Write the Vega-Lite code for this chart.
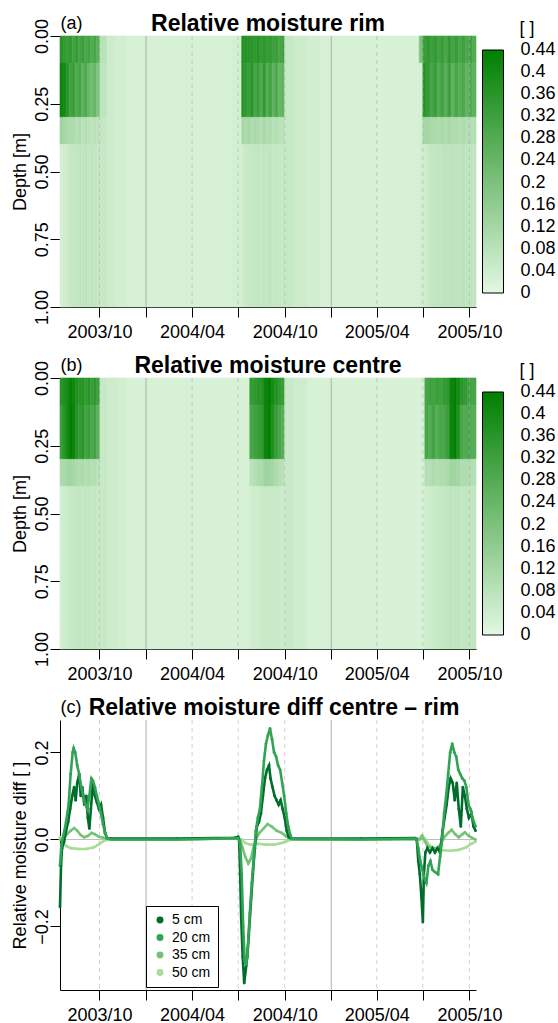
{
  "$schema": "https://vega.github.io/schema/vega-lite/v6.json",
  "padding": {"left": 11, "top": 13, "right": 0, "bottom": 0},
  "spacing": 14,
  "config": {
    "font": "Liberation Sans",
    "view": {"stroke": null},
    "axis": {"domainColor": "#000", "tickColor": "#000", "labelColor": "#000", "titleColor": "#000", "labelFontSize": 18, "titleFontSize": 18, "titleFontWeight": "normal", "tickSize": 10, "grid": false, "labelFlush": false, "labelOverlap": false, "domainWidth": 1, "tickWidth": 1},
    "title": {"fontSize": 23, "fontWeight": "bold", "color": "#000"},
    "legend": {"labelFontSize": 18, "titleFontSize": 18, "titleFontWeight": "normal", "labelColor": "#000", "titleColor": "#000"}
  },
  "datasets": {
    "bands": [{"b":0,"d0":0,"d1":1},{"b":1,"d0":0,"d1":0.1},{"b":2,"d0":0.1,"d1":0.3},{"b":3,"d0":0.3,"d1":0.4},{"b":4,"d0":0.4,"d1":1}],
    "grid": [{"d":"2003/10/01","k":"q"},{"d":"2004/01/01","k":"y"},{"d":"2004/04/01","k":"q"},{"d":"2004/07/01","k":"q"},{"d":"2004/10/01","k":"q"},{"d":"2005/01/01","k":"y"},{"d":"2005/04/01","k":"q"},{"d":"2005/07/01","k":"q"},{"d":"2005/10/01","k":"q"}],
    "rim": [
      {"t0":"2003/07/15","t1":"2003/07/21","b":1,"v":0.36},{"t0":"2003/07/15","t1":"2003/07/21","b":2,"v":0.42},{"t0":"2003/07/15","t1":"2003/07/21","b":3,"v":0.13},{"t0":"2003/07/15","t1":"2003/07/21","b":4,"v":0.03},
      {"t0":"2003/07/21","t1":"2003/07/27","b":1,"v":0.34},{"t0":"2003/07/21","t1":"2003/07/27","b":2,"v":0.40},{"t0":"2003/07/21","t1":"2003/07/27","b":3,"v":0.12},{"t0":"2003/07/21","t1":"2003/07/27","b":4,"v":0.035},
      {"t0":"2003/07/27","t1":"2003/08/02","b":1,"v":0.33},{"t0":"2003/07/27","t1":"2003/08/02","b":2,"v":0.36},{"t0":"2003/07/27","t1":"2003/08/02","b":3,"v":0.11},{"t0":"2003/07/27","t1":"2003/08/02","b":4,"v":0.045},
      {"t0":"2003/08/02","t1":"2003/08/08","b":1,"v":0.35},{"t0":"2003/08/02","t1":"2003/08/08","b":2,"v":0.31},{"t0":"2003/08/02","t1":"2003/08/08","b":3,"v":0.10},{"t0":"2003/08/02","t1":"2003/08/08","b":4,"v":0.055},
      {"t0":"2003/08/08","t1":"2003/08/14","b":1,"v":0.31},{"t0":"2003/08/08","t1":"2003/08/14","b":2,"v":0.33},{"t0":"2003/08/08","t1":"2003/08/14","b":3,"v":0.11},{"t0":"2003/08/08","t1":"2003/08/14","b":4,"v":0.06},
      {"t0":"2003/08/14","t1":"2003/08/20","b":1,"v":0.34},{"t0":"2003/08/14","t1":"2003/08/20","b":2,"v":0.28},{"t0":"2003/08/14","t1":"2003/08/20","b":3,"v":0.09},{"t0":"2003/08/14","t1":"2003/08/20","b":4,"v":0.065},
      {"t0":"2003/08/20","t1":"2003/08/26","b":1,"v":0.30},{"t0":"2003/08/20","t1":"2003/08/26","b":2,"v":0.31},{"t0":"2003/08/20","t1":"2003/08/26","b":3,"v":0.10},{"t0":"2003/08/20","t1":"2003/08/26","b":4,"v":0.07},
      {"t0":"2003/08/26","t1":"2003/09/01","b":1,"v":0.33},{"t0":"2003/08/26","t1":"2003/09/01","b":2,"v":0.26},{"t0":"2003/08/26","t1":"2003/09/01","b":3,"v":0.08},{"t0":"2003/08/26","t1":"2003/09/01","b":4,"v":0.065},
      {"t0":"2003/09/01","t1":"2003/09/07","b":1,"v":0.29},{"t0":"2003/09/01","t1":"2003/09/07","b":2,"v":0.29},{"t0":"2003/09/01","t1":"2003/09/07","b":3,"v":0.09},{"t0":"2003/09/01","t1":"2003/09/07","b":4,"v":0.07},
      {"t0":"2003/09/07","t1":"2003/09/13","b":1,"v":0.31},{"t0":"2003/09/07","t1":"2003/09/13","b":2,"v":0.24},{"t0":"2003/09/07","t1":"2003/09/13","b":3,"v":0.08},{"t0":"2003/09/07","t1":"2003/09/13","b":4,"v":0.065},
      {"t0":"2003/09/13","t1":"2003/09/19","b":1,"v":0.28},{"t0":"2003/09/13","t1":"2003/09/19","b":2,"v":0.22},{"t0":"2003/09/13","t1":"2003/09/19","b":3,"v":0.07},{"t0":"2003/09/13","t1":"2003/09/19","b":4,"v":0.07},
      {"t0":"2003/09/19","t1":"2003/09/25","b":1,"v":0.30},{"t0":"2003/09/19","t1":"2003/09/25","b":2,"v":0.24},{"t0":"2003/09/19","t1":"2003/09/25","b":3,"v":0.08},{"t0":"2003/09/19","t1":"2003/09/25","b":4,"v":0.065},
      {"t0":"2003/09/25","t1":"2003/10/02","b":1,"v":0.26},{"t0":"2003/09/25","t1":"2003/10/02","b":2,"v":0.19},{"t0":"2003/09/25","t1":"2003/10/02","b":3,"v":0.07},{"t0":"2003/09/25","t1":"2003/10/02","b":4,"v":0.06},
      {"t0":"2003/10/02","t1":"2003/10/16","b":1,"v":0.08},{"t0":"2003/10/02","t1":"2003/10/16","b":2,"v":0.07},{"t0":"2003/10/02","t1":"2003/10/16","b":3,"v":0.06},{"t0":"2003/10/02","t1":"2003/10/16","b":4,"v":0.055},
      {"t0":"2003/10/16","t1":"2003/11/01","b":0,"v":0.045},
      {"t0":"2003/11/01","t1":"2003/11/25","b":0,"v":0.035},
      {"t0":"2003/11/25","t1":"2004/06/20","b":0,"v":0.025},
      {"t0":"2004/06/20","t1":"2004/07/08","b":0,"v":0.03},
      {"t0":"2004/07/08","t1":"2004/07/14","b":1,"v":0.37},{"t0":"2004/07/08","t1":"2004/07/14","b":2,"v":0.36},{"t0":"2004/07/08","t1":"2004/07/14","b":3,"v":0.12},{"t0":"2004/07/08","t1":"2004/07/14","b":4,"v":0.045},
      {"t0":"2004/07/14","t1":"2004/07/20","b":1,"v":0.37},{"t0":"2004/07/14","t1":"2004/07/20","b":2,"v":0.35},{"t0":"2004/07/14","t1":"2004/07/20","b":3,"v":0.11},{"t0":"2004/07/14","t1":"2004/07/20","b":4,"v":0.05},
      {"t0":"2004/07/20","t1":"2004/07/26","b":1,"v":0.36},{"t0":"2004/07/20","t1":"2004/07/26","b":2,"v":0.33},{"t0":"2004/07/20","t1":"2004/07/26","b":3,"v":0.12},{"t0":"2004/07/20","t1":"2004/07/26","b":4,"v":0.055},
      {"t0":"2004/07/26","t1":"2004/08/01","b":1,"v":0.36},{"t0":"2004/07/26","t1":"2004/08/01","b":2,"v":0.36},{"t0":"2004/07/26","t1":"2004/08/01","b":3,"v":0.10},{"t0":"2004/07/26","t1":"2004/08/01","b":4,"v":0.06},
      {"t0":"2004/08/01","t1":"2004/08/07","b":1,"v":0.35},{"t0":"2004/08/01","t1":"2004/08/07","b":2,"v":0.30},{"t0":"2004/08/01","t1":"2004/08/07","b":3,"v":0.11},{"t0":"2004/08/01","t1":"2004/08/07","b":4,"v":0.06},
      {"t0":"2004/08/07","t1":"2004/08/13","b":1,"v":0.36},{"t0":"2004/08/07","t1":"2004/08/13","b":2,"v":0.33},{"t0":"2004/08/07","t1":"2004/08/13","b":3,"v":0.10},{"t0":"2004/08/07","t1":"2004/08/13","b":4,"v":0.065},
      {"t0":"2004/08/13","t1":"2004/08/19","b":1,"v":0.34},{"t0":"2004/08/13","t1":"2004/08/19","b":2,"v":0.28},{"t0":"2004/08/13","t1":"2004/08/19","b":3,"v":0.09},{"t0":"2004/08/13","t1":"2004/08/19","b":4,"v":0.06},
      {"t0":"2004/08/19","t1":"2004/08/25","b":1,"v":0.35},{"t0":"2004/08/19","t1":"2004/08/25","b":2,"v":0.34},{"t0":"2004/08/19","t1":"2004/08/25","b":3,"v":0.11},{"t0":"2004/08/19","t1":"2004/08/25","b":4,"v":0.065},
      {"t0":"2004/08/25","t1":"2004/08/31","b":1,"v":0.33},{"t0":"2004/08/25","t1":"2004/08/31","b":2,"v":0.27},{"t0":"2004/08/25","t1":"2004/08/31","b":3,"v":0.09},{"t0":"2004/08/25","t1":"2004/08/31","b":4,"v":0.06},
      {"t0":"2004/08/31","t1":"2004/09/06","b":1,"v":0.34},{"t0":"2004/08/31","t1":"2004/09/06","b":2,"v":0.31},{"t0":"2004/08/31","t1":"2004/09/06","b":3,"v":0.10},{"t0":"2004/08/31","t1":"2004/09/06","b":4,"v":0.065},
      {"t0":"2004/09/06","t1":"2004/09/12","b":1,"v":0.32},{"t0":"2004/09/06","t1":"2004/09/12","b":2,"v":0.25},{"t0":"2004/09/06","t1":"2004/09/12","b":3,"v":0.08},{"t0":"2004/09/06","t1":"2004/09/12","b":4,"v":0.06},
      {"t0":"2004/09/12","t1":"2004/09/18","b":1,"v":0.33},{"t0":"2004/09/12","t1":"2004/09/18","b":2,"v":0.29},{"t0":"2004/09/12","t1":"2004/09/18","b":3,"v":0.09},{"t0":"2004/09/12","t1":"2004/09/18","b":4,"v":0.06},
      {"t0":"2004/09/18","t1":"2004/09/24","b":1,"v":0.30},{"t0":"2004/09/18","t1":"2004/09/24","b":2,"v":0.24},{"t0":"2004/09/18","t1":"2004/09/24","b":3,"v":0.08},{"t0":"2004/09/18","t1":"2004/09/24","b":4,"v":0.055},
      {"t0":"2004/09/24","t1":"2004/10/01","b":1,"v":0.31},{"t0":"2004/09/24","t1":"2004/10/01","b":2,"v":0.25},{"t0":"2004/09/24","t1":"2004/10/01","b":3,"v":0.08},{"t0":"2004/09/24","t1":"2004/10/01","b":4,"v":0.055},
      {"t0":"2004/10/01","t1":"2004/10/20","b":0,"v":0.055},
      {"t0":"2004/10/20","t1":"2004/11/15","b":0,"v":0.045},
      {"t0":"2004/11/15","t1":"2004/12/10","b":0,"v":0.035},
      {"t0":"2004/12/10","t1":"2005/06/24","b":0,"v":0.025},
      {"t0":"2005/06/24","t1":"2005/07/01","b":1,"v":0.2},{"t0":"2005/06/24","t1":"2005/07/01","b":2,"v":0.03},{"t0":"2005/06/24","t1":"2005/07/01","b":3,"v":0.03},{"t0":"2005/06/24","t1":"2005/07/01","b":4,"v":0.035},
      {"t0":"2005/07/01","t1":"2005/07/08","b":1,"v":0.33},{"t0":"2005/07/01","t1":"2005/07/08","b":2,"v":0.36},{"t0":"2005/07/01","t1":"2005/07/08","b":3,"v":0.12},{"t0":"2005/07/01","t1":"2005/07/08","b":4,"v":0.04},
      {"t0":"2005/07/08","t1":"2005/07/15","b":1,"v":0.35},{"t0":"2005/07/08","t1":"2005/07/15","b":2,"v":0.34},{"t0":"2005/07/08","t1":"2005/07/15","b":3,"v":0.12},{"t0":"2005/07/08","t1":"2005/07/15","b":4,"v":0.05},
      {"t0":"2005/07/15","t1":"2005/07/22","b":1,"v":0.32},{"t0":"2005/07/15","t1":"2005/07/22","b":2,"v":0.30},{"t0":"2005/07/15","t1":"2005/07/22","b":3,"v":0.11},{"t0":"2005/07/15","t1":"2005/07/22","b":4,"v":0.06},
      {"t0":"2005/07/22","t1":"2005/07/29","b":1,"v":0.34},{"t0":"2005/07/22","t1":"2005/07/29","b":2,"v":0.33},{"t0":"2005/07/22","t1":"2005/07/29","b":3,"v":0.11},{"t0":"2005/07/22","t1":"2005/07/29","b":4,"v":0.065},
      {"t0":"2005/07/29","t1":"2005/08/05","b":1,"v":0.31},{"t0":"2005/07/29","t1":"2005/08/05","b":2,"v":0.28},{"t0":"2005/07/29","t1":"2005/08/05","b":3,"v":0.10},{"t0":"2005/07/29","t1":"2005/08/05","b":4,"v":0.07},
      {"t0":"2005/08/05","t1":"2005/08/12","b":1,"v":0.33},{"t0":"2005/08/05","t1":"2005/08/12","b":2,"v":0.31},{"t0":"2005/08/05","t1":"2005/08/12","b":3,"v":0.11},{"t0":"2005/08/05","t1":"2005/08/12","b":4,"v":0.07},
      {"t0":"2005/08/12","t1":"2005/08/19","b":1,"v":0.30},{"t0":"2005/08/12","t1":"2005/08/19","b":2,"v":0.27},{"t0":"2005/08/12","t1":"2005/08/19","b":3,"v":0.10},{"t0":"2005/08/12","t1":"2005/08/19","b":4,"v":0.075},
      {"t0":"2005/08/19","t1":"2005/08/26","b":1,"v":0.34},{"t0":"2005/08/19","t1":"2005/08/26","b":2,"v":0.32},{"t0":"2005/08/19","t1":"2005/08/26","b":3,"v":0.11},{"t0":"2005/08/19","t1":"2005/08/26","b":4,"v":0.07},
      {"t0":"2005/08/26","t1":"2005/09/02","b":1,"v":0.31},{"t0":"2005/08/26","t1":"2005/09/02","b":2,"v":0.26},{"t0":"2005/08/26","t1":"2005/09/02","b":3,"v":0.10},{"t0":"2005/08/26","t1":"2005/09/02","b":4,"v":0.075},
      {"t0":"2005/09/02","t1":"2005/09/09","b":1,"v":0.33},{"t0":"2005/09/02","t1":"2005/09/09","b":2,"v":0.30},{"t0":"2005/09/02","t1":"2005/09/09","b":3,"v":0.10},{"t0":"2005/09/02","t1":"2005/09/09","b":4,"v":0.07},
      {"t0":"2005/09/09","t1":"2005/09/16","b":1,"v":0.30},{"t0":"2005/09/09","t1":"2005/09/16","b":2,"v":0.27},{"t0":"2005/09/09","t1":"2005/09/16","b":3,"v":0.09},{"t0":"2005/09/09","t1":"2005/09/16","b":4,"v":0.07},
      {"t0":"2005/09/16","t1":"2005/09/23","b":1,"v":0.32},{"t0":"2005/09/16","t1":"2005/09/23","b":2,"v":0.29},{"t0":"2005/09/16","t1":"2005/09/23","b":3,"v":0.10},{"t0":"2005/09/16","t1":"2005/09/23","b":4,"v":0.075},
      {"t0":"2005/09/23","t1":"2005/09/30","b":1,"v":0.29},{"t0":"2005/09/23","t1":"2005/09/30","b":2,"v":0.25},{"t0":"2005/09/23","t1":"2005/09/30","b":3,"v":0.09},{"t0":"2005/09/23","t1":"2005/09/30","b":4,"v":0.07},
      {"t0":"2005/09/30","t1":"2005/10/07","b":1,"v":0.31},{"t0":"2005/09/30","t1":"2005/10/07","b":2,"v":0.28},{"t0":"2005/09/30","t1":"2005/10/07","b":3,"v":0.09},{"t0":"2005/09/30","t1":"2005/10/07","b":4,"v":0.07},
      {"t0":"2005/10/07","t1":"2005/10/14","b":1,"v":0.28},{"t0":"2005/10/07","t1":"2005/10/14","b":2,"v":0.26},{"t0":"2005/10/07","t1":"2005/10/14","b":3,"v":0.09},{"t0":"2005/10/07","t1":"2005/10/14","b":4,"v":0.065}
    ],
    "centre": [
      {"t0":"2003/07/15","t1":"2003/07/21","b":1,"v":0.36},{"t0":"2003/07/15","t1":"2003/07/21","b":2,"v":0.33},{"t0":"2003/07/15","t1":"2003/07/21","b":3,"v":0.10},{"t0":"2003/07/15","t1":"2003/07/21","b":4,"v":0.035},
      {"t0":"2003/07/21","t1":"2003/07/27","b":1,"v":0.38},{"t0":"2003/07/21","t1":"2003/07/27","b":2,"v":0.36},{"t0":"2003/07/21","t1":"2003/07/27","b":3,"v":0.11},{"t0":"2003/07/21","t1":"2003/07/27","b":4,"v":0.04},
      {"t0":"2003/07/27","t1":"2003/08/02","b":1,"v":0.40},{"t0":"2003/07/27","t1":"2003/08/02","b":2,"v":0.40},{"t0":"2003/07/27","t1":"2003/08/02","b":3,"v":0.12},{"t0":"2003/07/27","t1":"2003/08/02","b":4,"v":0.05},
      {"t0":"2003/08/02","t1":"2003/08/08","b":1,"v":0.43},{"t0":"2003/08/02","t1":"2003/08/08","b":2,"v":0.44},{"t0":"2003/08/02","t1":"2003/08/08","b":3,"v":0.13},{"t0":"2003/08/02","t1":"2003/08/08","b":4,"v":0.055},
      {"t0":"2003/08/08","t1":"2003/08/14","b":1,"v":0.42},{"t0":"2003/08/08","t1":"2003/08/14","b":2,"v":0.43},{"t0":"2003/08/08","t1":"2003/08/14","b":3,"v":0.12},{"t0":"2003/08/08","t1":"2003/08/14","b":4,"v":0.06},
      {"t0":"2003/08/14","t1":"2003/08/20","b":1,"v":0.38},{"t0":"2003/08/14","t1":"2003/08/20","b":2,"v":0.37},{"t0":"2003/08/14","t1":"2003/08/20","b":3,"v":0.11},{"t0":"2003/08/14","t1":"2003/08/20","b":4,"v":0.06},
      {"t0":"2003/08/20","t1":"2003/08/26","b":1,"v":0.36},{"t0":"2003/08/20","t1":"2003/08/26","b":2,"v":0.34},{"t0":"2003/08/20","t1":"2003/08/26","b":3,"v":0.10},{"t0":"2003/08/20","t1":"2003/08/26","b":4,"v":0.065},
      {"t0":"2003/08/26","t1":"2003/09/01","b":1,"v":0.37},{"t0":"2003/08/26","t1":"2003/09/01","b":2,"v":0.36},{"t0":"2003/08/26","t1":"2003/09/01","b":3,"v":0.11},{"t0":"2003/08/26","t1":"2003/09/01","b":4,"v":0.06},
      {"t0":"2003/09/01","t1":"2003/09/07","b":1,"v":0.34},{"t0":"2003/09/01","t1":"2003/09/07","b":2,"v":0.31},{"t0":"2003/09/01","t1":"2003/09/07","b":3,"v":0.09},{"t0":"2003/09/01","t1":"2003/09/07","b":4,"v":0.065},
      {"t0":"2003/09/07","t1":"2003/09/13","b":1,"v":0.36},{"t0":"2003/09/07","t1":"2003/09/13","b":2,"v":0.33},{"t0":"2003/09/07","t1":"2003/09/13","b":3,"v":0.10},{"t0":"2003/09/07","t1":"2003/09/13","b":4,"v":0.06},
      {"t0":"2003/09/13","t1":"2003/09/19","b":1,"v":0.33},{"t0":"2003/09/13","t1":"2003/09/19","b":2,"v":0.29},{"t0":"2003/09/13","t1":"2003/09/19","b":3,"v":0.09},{"t0":"2003/09/13","t1":"2003/09/19","b":4,"v":0.06},
      {"t0":"2003/09/19","t1":"2003/09/25","b":1,"v":0.35},{"t0":"2003/09/19","t1":"2003/09/25","b":2,"v":0.31},{"t0":"2003/09/19","t1":"2003/09/25","b":3,"v":0.09},{"t0":"2003/09/19","t1":"2003/09/25","b":4,"v":0.06},
      {"t0":"2003/09/25","t1":"2003/10/02","b":1,"v":0.32},{"t0":"2003/09/25","t1":"2003/10/02","b":2,"v":0.26},{"t0":"2003/09/25","t1":"2003/10/02","b":3,"v":0.08},{"t0":"2003/09/25","t1":"2003/10/02","b":4,"v":0.055},
      {"t0":"2003/10/02","t1":"2003/10/16","b":0,"v":0.055},
      {"t0":"2003/10/16","t1":"2003/11/05","b":0,"v":0.045},
      {"t0":"2003/11/05","t1":"2003/11/25","b":0,"v":0.035},
      {"t0":"2003/11/25","t1":"2004/07/24","b":0,"v":0.025},
      {"t0":"2004/07/24","t1":"2004/07/31","b":1,"v":0.34},{"t0":"2004/07/24","t1":"2004/07/31","b":2,"v":0.30},{"t0":"2004/07/24","t1":"2004/07/31","b":3,"v":0.08},{"t0":"2004/07/24","t1":"2004/07/31","b":4,"v":0.035},
      {"t0":"2004/07/31","t1":"2004/08/07","b":1,"v":0.35},{"t0":"2004/07/31","t1":"2004/08/07","b":2,"v":0.32},{"t0":"2004/07/31","t1":"2004/08/07","b":3,"v":0.09},{"t0":"2004/07/31","t1":"2004/08/07","b":4,"v":0.04},
      {"t0":"2004/08/07","t1":"2004/08/14","b":1,"v":0.36},{"t0":"2004/08/07","t1":"2004/08/14","b":2,"v":0.33},{"t0":"2004/08/07","t1":"2004/08/14","b":3,"v":0.10},{"t0":"2004/08/07","t1":"2004/08/14","b":4,"v":0.045},
      {"t0":"2004/08/14","t1":"2004/08/21","b":1,"v":0.37},{"t0":"2004/08/14","t1":"2004/08/21","b":2,"v":0.35},{"t0":"2004/08/14","t1":"2004/08/21","b":3,"v":0.11},{"t0":"2004/08/14","t1":"2004/08/21","b":4,"v":0.05},
      {"t0":"2004/08/21","t1":"2004/08/28","b":1,"v":0.42},{"t0":"2004/08/21","t1":"2004/08/28","b":2,"v":0.42},{"t0":"2004/08/21","t1":"2004/08/28","b":3,"v":0.13},{"t0":"2004/08/21","t1":"2004/08/28","b":4,"v":0.055},
      {"t0":"2004/08/28","t1":"2004/09/04","b":1,"v":0.44},{"t0":"2004/08/28","t1":"2004/09/04","b":2,"v":0.44},{"t0":"2004/08/28","t1":"2004/09/04","b":3,"v":0.13},{"t0":"2004/08/28","t1":"2004/09/04","b":4,"v":0.055},
      {"t0":"2004/09/04","t1":"2004/09/11","b":1,"v":0.40},{"t0":"2004/09/04","t1":"2004/09/11","b":2,"v":0.38},{"t0":"2004/09/04","t1":"2004/09/11","b":3,"v":0.12},{"t0":"2004/09/04","t1":"2004/09/11","b":4,"v":0.055},
      {"t0":"2004/09/11","t1":"2004/09/18","b":1,"v":0.37},{"t0":"2004/09/11","t1":"2004/09/18","b":2,"v":0.33},{"t0":"2004/09/11","t1":"2004/09/18","b":3,"v":0.10},{"t0":"2004/09/11","t1":"2004/09/18","b":4,"v":0.05},
      {"t0":"2004/09/18","t1":"2004/09/25","b":1,"v":0.35},{"t0":"2004/09/18","t1":"2004/09/25","b":2,"v":0.30},{"t0":"2004/09/18","t1":"2004/09/25","b":3,"v":0.09},{"t0":"2004/09/18","t1":"2004/09/25","b":4,"v":0.05},
      {"t0":"2004/09/25","t1":"2004/10/01","b":1,"v":0.33},{"t0":"2004/09/25","t1":"2004/10/01","b":2,"v":0.27},{"t0":"2004/09/25","t1":"2004/10/01","b":3,"v":0.08},{"t0":"2004/09/25","t1":"2004/10/01","b":4,"v":0.045},
      {"t0":"2004/10/01","t1":"2004/10/20","b":0,"v":0.05},
      {"t0":"2004/10/20","t1":"2004/11/15","b":0,"v":0.04},
      {"t0":"2004/11/15","t1":"2005/07/05","b":0,"v":0.025},
      {"t0":"2005/07/05","t1":"2005/07/12","b":1,"v":0.30},{"t0":"2005/07/05","t1":"2005/07/12","b":2,"v":0.30},{"t0":"2005/07/05","t1":"2005/07/12","b":3,"v":0.09},{"t0":"2005/07/05","t1":"2005/07/12","b":4,"v":0.04},
      {"t0":"2005/07/12","t1":"2005/07/19","b":1,"v":0.32},{"t0":"2005/07/12","t1":"2005/07/19","b":2,"v":0.28},{"t0":"2005/07/12","t1":"2005/07/19","b":3,"v":0.09},{"t0":"2005/07/12","t1":"2005/07/19","b":4,"v":0.045},
      {"t0":"2005/07/19","t1":"2005/07/26","b":1,"v":0.31},{"t0":"2005/07/19","t1":"2005/07/26","b":2,"v":0.31},{"t0":"2005/07/19","t1":"2005/07/26","b":3,"v":0.10},{"t0":"2005/07/19","t1":"2005/07/26","b":4,"v":0.05},
      {"t0":"2005/07/26","t1":"2005/08/02","b":1,"v":0.33},{"t0":"2005/07/26","t1":"2005/08/02","b":2,"v":0.27},{"t0":"2005/07/26","t1":"2005/08/02","b":3,"v":0.09},{"t0":"2005/07/26","t1":"2005/08/02","b":4,"v":0.055},
      {"t0":"2005/08/02","t1":"2005/08/09","b":1,"v":0.32},{"t0":"2005/08/02","t1":"2005/08/09","b":2,"v":0.30},{"t0":"2005/08/02","t1":"2005/08/09","b":3,"v":0.10},{"t0":"2005/08/02","t1":"2005/08/09","b":4,"v":0.06},
      {"t0":"2005/08/09","t1":"2005/08/16","b":1,"v":0.34},{"t0":"2005/08/09","t1":"2005/08/16","b":2,"v":0.30},{"t0":"2005/08/09","t1":"2005/08/16","b":3,"v":0.10},{"t0":"2005/08/09","t1":"2005/08/16","b":4,"v":0.06},
      {"t0":"2005/08/16","t1":"2005/08/23","b":1,"v":0.35},{"t0":"2005/08/16","t1":"2005/08/23","b":2,"v":0.33},{"t0":"2005/08/16","t1":"2005/08/23","b":3,"v":0.11},{"t0":"2005/08/16","t1":"2005/08/23","b":4,"v":0.065},
      {"t0":"2005/08/23","t1":"2005/08/30","b":1,"v":0.42},{"t0":"2005/08/23","t1":"2005/08/30","b":2,"v":0.42},{"t0":"2005/08/23","t1":"2005/08/30","b":3,"v":0.13},{"t0":"2005/08/23","t1":"2005/08/30","b":4,"v":0.07},
      {"t0":"2005/08/30","t1":"2005/09/06","b":1,"v":0.44},{"t0":"2005/08/30","t1":"2005/09/06","b":2,"v":0.44},{"t0":"2005/08/30","t1":"2005/09/06","b":3,"v":0.13},{"t0":"2005/08/30","t1":"2005/09/06","b":4,"v":0.07},
      {"t0":"2005/09/06","t1":"2005/09/13","b":1,"v":0.40},{"t0":"2005/09/06","t1":"2005/09/13","b":2,"v":0.38},{"t0":"2005/09/06","t1":"2005/09/13","b":3,"v":0.12},{"t0":"2005/09/06","t1":"2005/09/13","b":4,"v":0.07},
      {"t0":"2005/09/13","t1":"2005/09/20","b":1,"v":0.36},{"t0":"2005/09/13","t1":"2005/09/20","b":2,"v":0.30},{"t0":"2005/09/13","t1":"2005/09/20","b":3,"v":0.10},{"t0":"2005/09/13","t1":"2005/09/20","b":4,"v":0.065},
      {"t0":"2005/09/20","t1":"2005/09/27","b":1,"v":0.34},{"t0":"2005/09/20","t1":"2005/09/27","b":2,"v":0.28},{"t0":"2005/09/20","t1":"2005/09/27","b":3,"v":0.10},{"t0":"2005/09/20","t1":"2005/09/27","b":4,"v":0.065},
      {"t0":"2005/09/27","t1":"2005/10/04","b":1,"v":0.32},{"t0":"2005/09/27","t1":"2005/10/04","b":2,"v":0.30},{"t0":"2005/09/27","t1":"2005/10/04","b":3,"v":0.10},{"t0":"2005/09/27","t1":"2005/10/04","b":4,"v":0.065},
      {"t0":"2005/10/04","t1":"2005/10/14","b":1,"v":0.30},{"t0":"2005/10/04","t1":"2005/10/14","b":2,"v":0.27},{"t0":"2005/10/04","t1":"2005/10/14","b":3,"v":0.09},{"t0":"2005/10/04","t1":"2005/10/14","b":4,"v":0.065}
    ],
    "diff": [
      {"d":"2003/07/15","s":"50 cm","v":0.005},{"d":"2003/07/20","s":"50 cm","v":-0.005},{"d":"2003/07/27","s":"50 cm","v":-0.015},{"d":"2003/08/05","s":"50 cm","v":-0.02},{"d":"2003/08/20","s":"50 cm","v":-0.022},{"d":"2003/09/05","s":"50 cm","v":-0.022},{"d":"2003/09/20","s":"50 cm","v":-0.018},{"d":"2003/10/01","s":"50 cm","v":-0.01},{"d":"2003/10/10","s":"50 cm","v":-0.003},{"d":"2003/10/18","s":"50 cm","v":0.0},{"d":"2004/03/01","s":"50 cm","v":0.0},{"d":"2004/07/01","s":"50 cm","v":0.002},{"d":"2004/07/08","s":"50 cm","v":0.0},{"d":"2004/07/15","s":"50 cm","v":-0.008},{"d":"2004/07/25","s":"50 cm","v":-0.012},{"d":"2004/08/10","s":"50 cm","v":-0.01},{"d":"2004/08/25","s":"50 cm","v":-0.012},{"d":"2004/09/10","s":"50 cm","v":-0.012},{"d":"2004/09/25","s":"50 cm","v":-0.008},{"d":"2004/10/05","s":"50 cm","v":-0.004},{"d":"2004/10/14","s":"50 cm","v":0.0},{"d":"2005/03/01","s":"50 cm","v":0.0},{"d":"2005/06/25","s":"50 cm","v":0.002},{"d":"2005/07/01","s":"50 cm","v":0.008},{"d":"2005/07/06","s":"50 cm","v":0.0},{"d":"2005/07/15","s":"50 cm","v":-0.015},{"d":"2005/07/25","s":"50 cm","v":-0.022},{"d":"2005/08/10","s":"50 cm","v":-0.025},{"d":"2005/08/25","s":"50 cm","v":-0.026},{"d":"2005/09/10","s":"50 cm","v":-0.024},{"d":"2005/09/25","s":"50 cm","v":-0.018},{"d":"2005/10/05","s":"50 cm","v":-0.01},{"d":"2005/10/13","s":"50 cm","v":-0.005},
      {"d":"2003/07/15","s":"35 cm","v":0.0},{"d":"2003/07/20","s":"35 cm","v":0.0},{"d":"2003/07/27","s":"35 cm","v":0.01},{"d":"2003/08/05","s":"35 cm","v":0.02},{"d":"2003/08/12","s":"35 cm","v":0.026},{"d":"2003/08/18","s":"35 cm","v":0.02},{"d":"2003/08/25","s":"35 cm","v":0.01},{"d":"2003/09/01","s":"35 cm","v":0.005},{"d":"2003/09/08","s":"35 cm","v":0.008},{"d":"2003/09/15","s":"35 cm","v":0.015},{"d":"2003/09/22","s":"35 cm","v":0.012},{"d":"2003/09/30","s":"35 cm","v":0.006},{"d":"2003/10/08","s":"35 cm","v":0.004},{"d":"2003/10/15","s":"35 cm","v":0.001},{"d":"2003/10/25","s":"35 cm","v":0.0},{"d":"2004/03/01","s":"35 cm","v":0.0},{"d":"2004/07/01","s":"35 cm","v":0.003},{"d":"2004/07/06","s":"35 cm","v":-0.005},{"d":"2004/07/10","s":"35 cm","v":-0.02},{"d":"2004/07/15","s":"35 cm","v":-0.04},{"d":"2004/07/21","s":"35 cm","v":-0.055},{"d":"2004/07/26","s":"35 cm","v":-0.045},{"d":"2004/07/31","s":"35 cm","v":-0.02},{"d":"2004/08/05","s":"35 cm","v":0.0},{"d":"2004/08/12","s":"35 cm","v":0.015},{"d":"2004/08/20","s":"35 cm","v":0.025},{"d":"2004/08/28","s":"35 cm","v":0.035},{"d":"2004/09/05","s":"35 cm","v":0.03},{"d":"2004/09/15","s":"35 cm","v":0.02},{"d":"2004/09/25","s":"35 cm","v":0.015},{"d":"2004/10/03","s":"35 cm","v":0.008},{"d":"2004/10/10","s":"35 cm","v":0.002},{"d":"2004/10/15","s":"35 cm","v":0.0},{"d":"2005/03/01","s":"35 cm","v":0.0},{"d":"2005/06/25","s":"35 cm","v":0.0},{"d":"2005/06/29","s":"35 cm","v":0.008},{"d":"2005/07/03","s":"35 cm","v":0.0},{"d":"2005/07/10","s":"35 cm","v":-0.015},{"d":"2005/07/20","s":"35 cm","v":-0.02},{"d":"2005/07/30","s":"35 cm","v":-0.02},{"d":"2005/08/06","s":"35 cm","v":-0.01},{"d":"2005/08/12","s":"35 cm","v":0.005},{"d":"2005/08/20","s":"35 cm","v":0.015},{"d":"2005/08/27","s":"35 cm","v":0.022},{"d":"2005/09/03","s":"35 cm","v":0.012},{"d":"2005/09/10","s":"35 cm","v":0.005},{"d":"2005/09/17","s":"35 cm","v":0.012},{"d":"2005/09/22","s":"35 cm","v":0.016},{"d":"2005/09/30","s":"35 cm","v":0.008},{"d":"2005/10/07","s":"35 cm","v":0.003},{"d":"2005/10/13","s":"35 cm","v":0.0},
      {"d":"2003/07/15","s":"5 cm","v":-0.155},{"d":"2003/07/17","s":"5 cm","v":-0.06},{"d":"2003/07/19","s":"5 cm","v":-0.02},{"d":"2003/07/23","s":"5 cm","v":-0.005},{"d":"2003/07/27","s":"5 cm","v":0.02},{"d":"2003/07/31","s":"5 cm","v":0.04},{"d":"2003/08/04","s":"5 cm","v":0.07},{"d":"2003/08/08","s":"5 cm","v":0.1},{"d":"2003/08/12","s":"5 cm","v":0.12},{"d":"2003/08/15","s":"5 cm","v":0.09},{"d":"2003/08/18","s":"5 cm","v":0.13},{"d":"2003/08/22","s":"5 cm","v":0.15},{"d":"2003/08/25","s":"5 cm","v":0.1},{"d":"2003/08/28","s":"5 cm","v":0.12},{"d":"2003/09/01","s":"5 cm","v":0.08},{"d":"2003/09/05","s":"5 cm","v":0.1},{"d":"2003/09/08","s":"5 cm","v":0.05},{"d":"2003/09/11","s":"5 cm","v":0.025},{"d":"2003/09/14","s":"5 cm","v":0.07},{"d":"2003/09/18","s":"5 cm","v":0.13},{"d":"2003/09/22","s":"5 cm","v":0.1},{"d":"2003/09/26","s":"5 cm","v":0.085},{"d":"2003/09/30","s":"5 cm","v":0.07},{"d":"2003/10/04","s":"5 cm","v":0.08},{"d":"2003/10/08","s":"5 cm","v":0.05},{"d":"2003/10/12","s":"5 cm","v":0.015},{"d":"2003/10/16","s":"5 cm","v":0.003},{"d":"2003/10/25","s":"5 cm","v":0.002},{"d":"2004/03/01","s":"5 cm","v":0.002},{"d":"2004/06/25","s":"5 cm","v":0.004},{"d":"2004/07/01","s":"5 cm","v":0.006},{"d":"2004/07/03","s":"5 cm","v":0.0},{"d":"2004/07/05","s":"5 cm","v":-0.08},{"d":"2004/07/07","s":"5 cm","v":-0.18},{"d":"2004/07/10","s":"5 cm","v":-0.27},{"d":"2004/07/13","s":"5 cm","v":-0.33},{"d":"2004/07/16","s":"5 cm","v":-0.3},{"d":"2004/07/19","s":"5 cm","v":-0.27},{"d":"2004/07/22","s":"5 cm","v":-0.22},{"d":"2004/07/26","s":"5 cm","v":-0.15},{"d":"2004/07/30","s":"5 cm","v":-0.08},{"d":"2004/08/03","s":"5 cm","v":-0.02},{"d":"2004/08/07","s":"5 cm","v":0.03},{"d":"2004/08/11","s":"5 cm","v":0.04},{"d":"2004/08/15","s":"5 cm","v":0.06},{"d":"2004/08/19","s":"5 cm","v":0.1},{"d":"2004/08/23","s":"5 cm","v":0.14},{"d":"2004/08/27","s":"5 cm","v":0.16},{"d":"2004/08/31","s":"5 cm","v":0.17},{"d":"2004/09/03","s":"5 cm","v":0.14},{"d":"2004/09/07","s":"5 cm","v":0.12},{"d":"2004/09/11","s":"5 cm","v":0.1},{"d":"2004/09/15","s":"5 cm","v":0.09},{"d":"2004/09/19","s":"5 cm","v":0.08},{"d":"2004/09/23","s":"5 cm","v":0.09},{"d":"2004/09/27","s":"5 cm","v":0.07},{"d":"2004/10/01","s":"5 cm","v":0.05},{"d":"2004/10/05","s":"5 cm","v":0.02},{"d":"2004/10/09","s":"5 cm","v":0.005},{"d":"2004/10/15","s":"5 cm","v":0.002},{"d":"2005/03/01","s":"5 cm","v":0.002},{"d":"2005/06/15","s":"5 cm","v":0.003},{"d":"2005/06/19","s":"5 cm","v":0.0},{"d":"2005/06/22","s":"5 cm","v":-0.05},{"d":"2005/06/25","s":"5 cm","v":-0.08},{"d":"2005/06/28","s":"5 cm","v":-0.13},{"d":"2005/07/01","s":"5 cm","v":-0.19},{"d":"2005/07/03","s":"5 cm","v":-0.08},{"d":"2005/07/06","s":"5 cm","v":-0.03},{"d":"2005/07/10","s":"5 cm","v":-0.02},{"d":"2005/07/15","s":"5 cm","v":-0.03},{"d":"2005/07/20","s":"5 cm","v":-0.02},{"d":"2005/07/25","s":"5 cm","v":-0.03},{"d":"2005/07/30","s":"5 cm","v":-0.02},{"d":"2005/08/04","s":"5 cm","v":-0.03},{"d":"2005/08/09","s":"5 cm","v":0.02},{"d":"2005/08/13","s":"5 cm","v":0.05},{"d":"2005/08/17","s":"5 cm","v":0.08},{"d":"2005/08/21","s":"5 cm","v":0.12},{"d":"2005/08/25","s":"5 cm","v":0.14},{"d":"2005/08/29","s":"5 cm","v":0.13},{"d":"2005/09/02","s":"5 cm","v":0.09},{"d":"2005/09/06","s":"5 cm","v":0.13},{"d":"2005/09/10","s":"5 cm","v":0.07},{"d":"2005/09/14","s":"5 cm","v":0.03},{"d":"2005/09/18","s":"5 cm","v":0.12},{"d":"2005/09/22","s":"5 cm","v":0.1},{"d":"2005/09/26","s":"5 cm","v":0.07},{"d":"2005/09/30","s":"5 cm","v":0.05},{"d":"2005/10/05","s":"5 cm","v":0.06},{"d":"2005/10/09","s":"5 cm","v":0.03},{"d":"2005/10/13","s":"5 cm","v":0.02},
      {"d":"2003/07/15","s":"20 cm","v":-0.06},{"d":"2003/07/18","s":"20 cm","v":-0.01},{"d":"2003/07/22","s":"20 cm","v":0.01},{"d":"2003/07/27","s":"20 cm","v":0.04},{"d":"2003/08/01","s":"20 cm","v":0.08},{"d":"2003/08/05","s":"20 cm","v":0.15},{"d":"2003/08/09","s":"20 cm","v":0.2},{"d":"2003/08/11","s":"20 cm","v":0.21},{"d":"2003/08/14","s":"20 cm","v":0.2},{"d":"2003/08/18","s":"20 cm","v":0.17},{"d":"2003/08/22","s":"20 cm","v":0.15},{"d":"2003/08/26","s":"20 cm","v":0.12},{"d":"2003/08/30","s":"20 cm","v":0.1},{"d":"2003/09/03","s":"20 cm","v":0.08},{"d":"2003/09/07","s":"20 cm","v":0.07},{"d":"2003/09/11","s":"20 cm","v":0.1},{"d":"2003/09/15","s":"20 cm","v":0.14},{"d":"2003/09/18","s":"20 cm","v":0.135},{"d":"2003/09/22","s":"20 cm","v":0.12},{"d":"2003/09/26","s":"20 cm","v":0.1},{"d":"2003/09/30","s":"20 cm","v":0.08},{"d":"2003/10/04","s":"20 cm","v":0.06},{"d":"2003/10/08","s":"20 cm","v":0.035},{"d":"2003/10/12","s":"20 cm","v":0.015},{"d":"2003/10/16","s":"20 cm","v":0.003},{"d":"2003/10/25","s":"20 cm","v":0.0},{"d":"2004/03/01","s":"20 cm","v":0.0},{"d":"2004/07/01","s":"20 cm","v":0.003},{"d":"2004/07/05","s":"20 cm","v":-0.01},{"d":"2004/07/08","s":"20 cm","v":-0.08},{"d":"2004/07/11","s":"20 cm","v":-0.2},{"d":"2004/07/14","s":"20 cm","v":-0.28},{"d":"2004/07/17","s":"20 cm","v":-0.29},{"d":"2004/07/20","s":"20 cm","v":-0.25},{"d":"2004/07/24","s":"20 cm","v":-0.17},{"d":"2004/07/28","s":"20 cm","v":-0.1},{"d":"2004/08/01","s":"20 cm","v":-0.04},{"d":"2004/08/05","s":"20 cm","v":0.02},{"d":"2004/08/09","s":"20 cm","v":0.05},{"d":"2004/08/13","s":"20 cm","v":0.07},{"d":"2004/08/17","s":"20 cm","v":0.12},{"d":"2004/08/21","s":"20 cm","v":0.18},{"d":"2004/08/25","s":"20 cm","v":0.22},{"d":"2004/08/29","s":"20 cm","v":0.24},{"d":"2004/09/02","s":"20 cm","v":0.255},{"d":"2004/09/06","s":"20 cm","v":0.23},{"d":"2004/09/10","s":"20 cm","v":0.2},{"d":"2004/09/14","s":"20 cm","v":0.19},{"d":"2004/09/18","s":"20 cm","v":0.17},{"d":"2004/09/22","s":"20 cm","v":0.16},{"d":"2004/09/26","s":"20 cm","v":0.13},{"d":"2004/09/30","s":"20 cm","v":0.1},{"d":"2004/10/04","s":"20 cm","v":0.06},{"d":"2004/10/08","s":"20 cm","v":0.03},{"d":"2004/10/12","s":"20 cm","v":0.01},{"d":"2004/10/16","s":"20 cm","v":0.001},{"d":"2005/03/01","s":"20 cm","v":0.0},{"d":"2005/06/18","s":"20 cm","v":0.002},{"d":"2005/06/22","s":"20 cm","v":-0.02},{"d":"2005/06/26","s":"20 cm","v":-0.05},{"d":"2005/06/30","s":"20 cm","v":-0.07},{"d":"2005/07/04","s":"20 cm","v":-0.09},{"d":"2005/07/08","s":"20 cm","v":-0.1},{"d":"2005/07/12","s":"20 cm","v":-0.06},{"d":"2005/07/16","s":"20 cm","v":-0.05},{"d":"2005/07/20","s":"20 cm","v":-0.07},{"d":"2005/07/25","s":"20 cm","v":-0.075},{"d":"2005/07/31","s":"20 cm","v":-0.08},{"d":"2005/08/04","s":"20 cm","v":-0.04},{"d":"2005/08/08","s":"20 cm","v":0.0},{"d":"2005/08/12","s":"20 cm","v":0.06},{"d":"2005/08/16","s":"20 cm","v":0.1},{"d":"2005/08/20","s":"20 cm","v":0.15},{"d":"2005/08/24","s":"20 cm","v":0.2},{"d":"2005/08/28","s":"20 cm","v":0.22},{"d":"2005/09/01","s":"20 cm","v":0.2},{"d":"2005/09/05","s":"20 cm","v":0.19},{"d":"2005/09/09","s":"20 cm","v":0.16},{"d":"2005/09/13","s":"20 cm","v":0.15},{"d":"2005/09/17","s":"20 cm","v":0.14},{"d":"2005/09/21","s":"20 cm","v":0.135},{"d":"2005/09/25","s":"20 cm","v":0.12},{"d":"2005/09/29","s":"20 cm","v":0.08},{"d":"2005/10/03","s":"20 cm","v":0.07},{"d":"2005/10/07","s":"20 cm","v":0.05},{"d":"2005/10/13","s":"20 cm","v":0.03}
    ]
  },
  "vconcat": [
    {
      "width": 416, "height": 271,
      "title": {"text": "Relative moisture rim", "anchor": "middle", "offset": 0, "dy": 22},
      "layer": [
        {
          "data": {"name": "rim"},
          "transform": [{"lookup": "b", "from": {"data": {"name": "bands"}, "key": "b", "fields": ["d0", "d1"]}}],
          "mark": {"type": "rect", "strokeWidth": 0.6},
          "encoding": {
            "x": {"field": "t0", "type": "temporal", "scale": {"domain": [{"year": 2003, "month": 7, "date": 15}, {"year": 2005, "month": 10, "date": 14}], "nice": false},
                  "axis": {"orient": "bottom", "title": null, "labelPadding": 6, "values": [{"year":2003,"month":10,"date":1},{"year":2004,"month":1,"date":1},{"year":2004,"month":4,"date":1},{"year":2004,"month":7,"date":1},{"year":2004,"month":10,"date":1},{"year":2005,"month":1,"date":1},{"year":2005,"month":4,"date":1},{"year":2005,"month":7,"date":1},{"year":2005,"month":10,"date":1}], "labelExpr": "month(datum.value) == 3 || month(datum.value) == 9 ? timeFormat(datum.value, '%Y/%m') : ''"}},
            "x2": {"field": "t1"},
            "y": {"field": "d0", "type": "quantitative", "scale": {"domain": [0, 1], "reverse": true, "nice": false, "zero": false},
                  "axis": {"values": [0, 0.25, 0.5, 0.75, 1], "format": ".2f", "labelAngle": -90, "labelAlign": "center", "labelBaseline": "alphabetic", "labelPadding": 3, "title": "Depth [m]", "titlePadding": 4}},
            "y2": {"field": "d1"},
            "color": {"field": "v", "type": "quantitative", "scale": {"domain": [-0.0005, 0.4405], "range": ["#e3f8e3", "#007f00"], "interpolate": "rgb", "clamp": true},
                      "legend": {"orient": "none", "legendX": 422.5, "legendY": -16, "direction": "vertical", "gradientLength": 243, "gradientThickness": 21, "gradientStrokeColor": "#000", "gradientStrokeWidth": 1, "title": "[ ]", "titlePadding": 12, "titleAnchor": "middle", "titleAlign": "left", "values": [0, 0.04, 0.08, 0.12, 0.16, 0.2, 0.24, 0.28, 0.32, 0.36, 0.4, 0.44], "format": ".2~f", "labelOffset": 17, "labelOverlap": false}},
            "stroke": {"field": "v", "type": "quantitative", "scale": {"domain": [-0.0005, 0.4405], "range": ["#e3f8e3", "#007f00"], "interpolate": "rgb", "clamp": true}, "legend": null}
          }
        },
        {
          "data": {"name": "grid"},
          "mark": {"type": "rule", "strokeWidth": 1, "color": "#b0b0b0"},
          "encoding": {
            "x": {"field": "d", "type": "temporal", "axis": {"orient": "top", "title": "(a)", "labels": false, "ticks": false, "domain": false, "titleAnchor": "start", "titleAlign": "left", "titlePadding": 4}},
            "strokeOpacity": {"field": "k", "type": "nominal", "scale": {"domain": ["y", "q"], "range": [1, 0.6]}, "legend": null},
            "strokeDash": {"field": "k", "type": "nominal", "scale": {"domain": ["y", "q"], "range": [[1, 0], [4, 4]]}, "legend": null}
          }
        }
      ],
      "resolve": {"axis": {"x": "independent"}}
    },
    {
      "width": 416, "height": 271,
      "title": {"text": "Relative moisture centre", "anchor": "middle", "offset": 0, "dy": 22},
      "layer": [
        {
          "data": {"name": "centre"},
          "transform": [{"lookup": "b", "from": {"data": {"name": "bands"}, "key": "b", "fields": ["d0", "d1"]}}],
          "mark": {"type": "rect", "strokeWidth": 0.6},
          "encoding": {
            "x": {"field": "t0", "type": "temporal", "scale": {"domain": [{"year": 2003, "month": 7, "date": 15}, {"year": 2005, "month": 10, "date": 14}], "nice": false},
                  "axis": {"orient": "bottom", "title": null, "labelPadding": 6, "values": [{"year":2003,"month":10,"date":1},{"year":2004,"month":1,"date":1},{"year":2004,"month":4,"date":1},{"year":2004,"month":7,"date":1},{"year":2004,"month":10,"date":1},{"year":2005,"month":1,"date":1},{"year":2005,"month":4,"date":1},{"year":2005,"month":7,"date":1},{"year":2005,"month":10,"date":1}], "labelExpr": "month(datum.value) == 3 || month(datum.value) == 9 ? timeFormat(datum.value, '%Y/%m') : ''"}},
            "x2": {"field": "t1"},
            "y": {"field": "d0", "type": "quantitative", "scale": {"domain": [0, 1], "reverse": true, "nice": false, "zero": false},
                  "axis": {"values": [0, 0.25, 0.5, 0.75, 1], "format": ".2f", "labelAngle": -90, "labelAlign": "center", "labelBaseline": "alphabetic", "labelPadding": 3, "title": "Depth [m]", "titlePadding": 4}},
            "y2": {"field": "d1"},
            "color": {"field": "v", "type": "quantitative", "scale": {"domain": [-0.0005, 0.4405], "range": ["#e3f8e3", "#007f00"], "interpolate": "rgb", "clamp": true},
                      "legend": {"orient": "none", "legendX": 422.5, "legendY": -16, "direction": "vertical", "gradientLength": 243, "gradientThickness": 21, "gradientStrokeColor": "#000", "gradientStrokeWidth": 1, "title": "[ ]", "titlePadding": 12, "titleAnchor": "middle", "titleAlign": "left", "values": [0, 0.04, 0.08, 0.12, 0.16, 0.2, 0.24, 0.28, 0.32, 0.36, 0.4, 0.44], "format": ".2~f", "labelOffset": 17, "labelOverlap": false}},
            "stroke": {"field": "v", "type": "quantitative", "scale": {"domain": [-0.0005, 0.4405], "range": ["#e3f8e3", "#007f00"], "interpolate": "rgb", "clamp": true}, "legend": null}
          }
        },
        {
          "data": {"name": "grid"},
          "mark": {"type": "rule", "strokeWidth": 1, "color": "#b0b0b0"},
          "encoding": {
            "x": {"field": "d", "type": "temporal", "axis": {"orient": "top", "title": "(b)", "labels": false, "ticks": false, "domain": false, "titleAnchor": "start", "titleAlign": "left", "titlePadding": 4}},
            "strokeOpacity": {"field": "k", "type": "nominal", "scale": {"domain": ["y", "q"], "range": [1, 0.6]}, "legend": null},
            "strokeDash": {"field": "k", "type": "nominal", "scale": {"domain": ["y", "q"], "range": [[1, 0], [4, 4]]}, "legend": null}
          }
        }
      ],
      "resolve": {"axis": {"x": "independent"}}
    },
    {
      "width": 416, "height": 270,
      "title": {"text": "Relative moisture diff centre – rim", "anchor": "middle", "offset": 0, "dy": 22, "dx": 6},
      "layer": [
        {
          "data": {"name": "grid"},
          "mark": {"type": "rule", "strokeWidth": 1, "color": "#b0b0b0"},
          "encoding": {
            "x": {"field": "d", "type": "temporal", "scale": {"domain": [{"year": 2003, "month": 7, "date": 15}, {"year": 2005, "month": 10, "date": 14}], "nice": false}, "axis": {"orient": "top", "title": "(c)", "labels": false, "ticks": false, "domain": false, "titleAnchor": "start", "titleAlign": "left", "titlePadding": 4}},
            "strokeOpacity": {"field": "k", "type": "nominal", "scale": {"domain": ["y", "q"], "range": [1, 0.6]}, "legend": null},
            "strokeDash": {"field": "k", "type": "nominal", "scale": {"domain": ["y", "q"], "range": [[1, 0], [4, 4]]}, "legend": null}
          }
        },
        {
          "data": {"name": "diff"},
          "mark": {"type": "point", "filled": true, "size": 8, "opacity": 1},
          "encoding": {
            "x": {"field": "d", "type": "temporal",
                  "axis": {"orient": "bottom", "title": null, "labelPadding": 6, "values": [{"year":2003,"month":10,"date":1},{"year":2004,"month":1,"date":1},{"year":2004,"month":4,"date":1},{"year":2004,"month":7,"date":1},{"year":2004,"month":10,"date":1},{"year":2005,"month":1,"date":1},{"year":2005,"month":4,"date":1},{"year":2005,"month":7,"date":1},{"year":2005,"month":10,"date":1}], "labelExpr": "month(datum.value) == 3 || month(datum.value) == 9 ? timeFormat(datum.value, '%Y/%m') : ''"}},
            "y": {"field": "v", "type": "quantitative", "scale": {"domain": [-0.346, 0.2745], "nice": false, "zero": false},
                  "axis": {"values": [-0.2, 0, 0.2], "format": ".1f", "labelAngle": -90, "labelAlign": "center", "labelBaseline": "alphabetic", "labelPadding": 3, "title": "Relative moisture diff [ ]", "titlePadding": 4, "grid": true, "gridColor": "#bdbdbd", "gridOpacity": {"condition": {"test": "datum.value === 0", "value": 1}, "value": 0}}},
            "color": {"field": "s", "type": "nominal", "scale": {"domain": ["5 cm", "20 cm", "35 cm", "50 cm"], "range": ["#006d2c", "#31a354", "#74c476", "#a8dc98"]},
                      "legend": {"orient": "none", "legendX": 86, "legendY": 186, "title": null, "strokeColor": "#000", "fillColor": "#fff", "padding": 7, "labelFontSize": 14, "symbolSize": 30, "symbolType": "circle", "labelOffset": 5, "rowPadding": 3.5, "labelExpr": "datum.label == '5 cm' ? '\u2007' + datum.label : datum.label"}}
          }
        },
        {
          "data": {"name": "diff"},
          "mark": {"type": "line", "strokeWidth": 2.6},
          "encoding": {
            "x": {"field": "d", "type": "temporal", "axis": null},
            "y": {"field": "v", "type": "quantitative"},
            "color": {"field": "s", "type": "nominal"}
          }
        }
      ],
      "resolve": {"axis": {"x": "independent"}}
    }
  ],
  "resolve": {"scale": {"color": "independent"}, "legend": {"color": "independent"}}
}
